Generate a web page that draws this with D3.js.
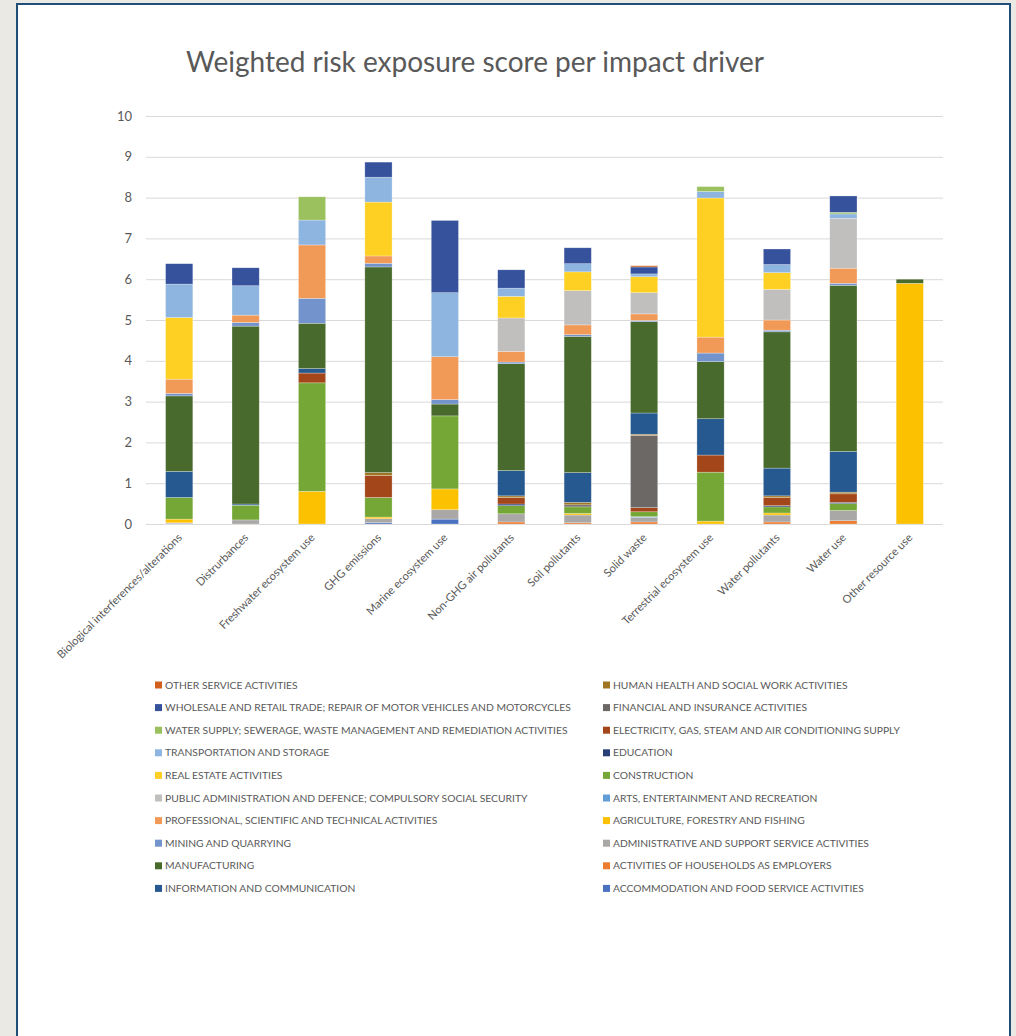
<!DOCTYPE html>
<html>
<head>
<meta charset="utf-8">
<script src="https://cdn.jsdelivr.net/npm/d3@7"></script>
<style>
  html, body { margin: 0; padding: 0; background: #ebe9e4; }
  svg { display: block; }
</style>
</head>
<body>
<svg id="chart" width="1016" height="1036"></svg>
<script>
// Impact drivers along the x axis
const categories = [
  "Biological interferences/alterations", "Distrurbances", "Freshwater ecosystem use",
  "GHG emissions", "Marine ecosystem use", "Non-GHG air pollutants", "Soil pollutants",
  "Solid waste", "Terrestrial ecosystem use", "Water pollutants", "Water use", "Other resource use"
];

// Sector contributions per impact driver (stacked bottom to top in this order)
const accommodation  = [0.01, 0, 0, 0.03, 0.12, 0, 0, 0, 0, 0, 0, 0];
const households     = [0, 0, 0, 0, 0, 0.05, 0.03, 0.05, 0, 0.05, 0.08, 0];
const administrative = [0.02, 0.10, 0, 0.10, 0.23, 0.20, 0.19, 0.11, 0, 0.17, 0.25, 0];
const agriculture    = [0.09, 0, 0.80, 0.04, 0.51, 0, 0.04, 0, 0.07, 0.05, 0, 5.90];
const arts           = [0, 0, 0, 0, 0, 0, 0, 0.02, 0, 0, 0, 0];
const construction   = [0.53, 0.36, 2.66, 0.48, 1.79, 0.20, 0.16, 0.12, 1.20, 0.15, 0.17, 0];
const education      = [0, 0, 0, 0, 0, 0.04, 0, 0, 0, 0.03, 0.03, 0];
const electricity    = [0, 0, 0.24, 0.54, 0, 0.16, 0, 0.10, 0.42, 0.20, 0.21, 0];
const financial      = [0, 0, 0, 0, 0, 0, 0.05, 1.77, 0, 0, 0, 0];
const humanHealth    = [0, 0, 0, 0.07, 0, 0.04, 0.06, 0.03, 0, 0.04, 0.04, 0];
const information    = [0.64, 0.03, 0.11, 0, 0, 0.62, 0.73, 0.52, 0.89, 0.68, 1.00, 0];
const manufacturing  = [1.85, 4.36, 1.11, 5.04, 0.29, 2.62, 3.34, 2.24, 1.40, 3.34, 4.07, 0.10];
const mining         = [0.06, 0.09, 0.61, 0.09, 0.11, 0.04, 0.04, 0.03, 0.21, 0.04, 0.05, 0];
const professional   = [0.35, 0.18, 1.31, 0.18, 1.05, 0.26, 0.24, 0.16, 0.39, 0.25, 0.37, 0];
const publicAdmin    = [0, 0, 0, 0, 0, 0.82, 0.84, 0.52, 0, 0.75, 1.22, 0];
const realEstate     = [1.51, 0, 0, 1.32, 0, 0.53, 0.46, 0.39, 3.41, 0.41, 0, 0];
const transportation = [0.82, 0.72, 0.61, 0.61, 1.57, 0.20, 0.20, 0.07, 0.16, 0.20, 0.11, 0];
const waterSupply    = [0, 0, 0.57, 0, 0, 0, 0, 0, 0.12, 0, 0.04, 0];
const wholesale      = [0.50, 0.44, 0, 0.37, 1.77, 0.45, 0.39, 0.17, 0, 0.38, 0.40, 0];
const otherService   = [0, 0, 0, 0, 0, 0, 0, 0.03, 0, 0, 0, 0];

// Y axis tick labels
const yTicks = [0, 1, 2, 3, 4, 5, 6, 7, 8, 9, 10];

const series = [
  { name: "ACCOMMODATION AND FOOD SERVICE ACTIVITIES", values: accommodation, color: "#4a72c0" },
  { name: "ACTIVITIES OF HOUSEHOLDS AS EMPLOYERS", values: households, color: "#ed7b2e" },
  { name: "ADMINISTRATIVE AND SUPPORT SERVICE ACTIVITIES", values: administrative, color: "#aaa8a6" },
  { name: "AGRICULTURE, FORESTRY AND FISHING", values: agriculture, color: "#fcc100" },
  { name: "ARTS, ENTERTAINMENT AND RECREATION", values: arts, color: "#629ed6" },
  { name: "CONSTRUCTION", values: construction, color: "#74a735" },
  { name: "EDUCATION", values: education, color: "#283f75" },
  { name: "ELECTRICITY, GAS, STEAM AND AIR CONDITIONING SUPPLY", values: electricity, color: "#a3461a" },
  { name: "FINANCIAL AND INSURANCE ACTIVITIES", values: financial, color: "#6c6866" },
  { name: "HUMAN HEALTH AND SOCIAL WORK ACTIVITIES", values: humanHealth, color: "#a07521" },
  { name: "INFORMATION AND COMMUNICATION", values: information, color: "#26598f" },
  { name: "MANUFACTURING", values: manufacturing, color: "#486a2c" },
  { name: "MINING AND QUARRYING", values: mining, color: "#7393cd" },
  { name: "PROFESSIONAL, SCIENTIFIC AND TECHNICAL ACTIVITIES", values: professional, color: "#f19a58" },
  { name: "PUBLIC ADMINISTRATION AND DEFENCE; COMPULSORY SOCIAL SECURITY", values: publicAdmin, color: "#c0bfbd" },
  { name: "REAL ESTATE ACTIVITIES", values: realEstate, color: "#ffd024" },
  { name: "TRANSPORTATION AND STORAGE", values: transportation, color: "#8db5e0" },
  { name: "WATER SUPPLY; SEWERAGE, WASTE MANAGEMENT AND REMEDIATION ACTIVITIES", values: waterSupply, color: "#9bc05e" },
  { name: "WHOLESALE AND RETAIL TRADE; REPAIR OF MOTOR VEHICLES AND MOTORCYCLES", values: wholesale, color: "#36529d" },
  { name: "OTHER SERVICE ACTIVITIES", values: otherService, color: "#d0601a" }
];

const svg = d3.select("#chart");
const font = "Lato, 'Open Sans', sans-serif";
const textColor = "#595959";

// Page frame
svg.append("rect").attr("x", 17).attr("y", 4).attr("width", 993).attr("height", 1040)
  .attr("fill", "#ffffff").attr("stroke", "#1f4e79").attr("stroke-width", 2);

// Title
svg.append("text")
  .attr("x", 475).attr("y", 72)
  .attr("text-anchor", "middle")
  .attr("font-family", font).attr("font-size", 28)
  .attr("fill", textColor)
  .text("Weighted risk exposure score per impact driver");

const plot = { left: 146, right: 943, top: 116, bottom: 524 };

const x = d3.scaleBand().domain(categories)
  .range([plot.left, plot.right]).paddingInner(0.59).paddingOuter(0.295);
const y = d3.scaleLinear().domain([0, 10]).range([plot.bottom, plot.top]);

// Gridlines and y labels
const yAxis = d3.axisLeft(y).tickValues(yTicks).tickSize(-(plot.right - plot.left)).tickPadding(14);
const gy = svg.append("g").attr("transform", `translate(${plot.left},0)`).call(yAxis);
gy.select(".domain").remove();
gy.selectAll(".tick line").attr("stroke", "#d9d9d9").attr("stroke-width", 1);
gy.selectAll(".tick text").attr("font-family", font).attr("font-size", 13).attr("fill", textColor);

// Stacked bars
const table = categories.map((c, i) => {
  const row = { category: c };
  series.forEach(s => { row[s.name] = s.values[i]; });
  return row;
});
const stack = d3.stack().keys(series.map(s => s.name))(table);

svg.append("g").selectAll("g")
  .data(stack)
  .join("g")
  .attr("fill", (d, i) => series[i].color)
  .selectAll("rect")
  .data(d => d.filter(p => p[1] - p[0] > 0))
  .join("rect")
  .attr("x", d => x(d.data.category))
  .attr("width", x.bandwidth())
  .attr("y", d => y(d[1]))
  .attr("height", d => y(d[0]) - y(d[1]))
  .attr("stroke", "#ffffff").attr("stroke-opacity", 0.45).attr("stroke-width", 0.6);

// Category labels, rotated
const xAxis = d3.axisBottom(x).tickSize(0).tickPadding(0);
const gx = svg.append("g").attr("transform", `translate(0,${plot.bottom})`).call(xAxis);
gx.select(".domain").remove();
gx.selectAll(".tick text")
  .attr("font-family", font).attr("font-size", 11.2).attr("fill", textColor)
  .attr("text-anchor", "end")
  .attr("dy", "0.3em")
  .attr("transform", "translate(1,12) rotate(-45)");

// Legend in two columns, reverse series order
const legendItems = series.slice().reverse();
const legend = svg.append("g");
legendItems.forEach((s, i) => {
  const col = Math.floor(i / 10);
  const row = i % 10;
  const lx = col === 0 ? 155 : 603;
  const ly = 685 + row * 22.6;
  const g = legend.append("g").attr("transform", `translate(${lx},${ly})`);
  g.append("rect").attr("x", 0).attr("y", -3.5).attr("width", 7).attr("height", 7).attr("fill", s.color);
  g.append("text").attr("x", 10).attr("y", 0).attr("dy", "0.35em")
    .attr("font-family", font).attr("font-size", 10.3).attr("fill", textColor)
    .text(s.name);
});
</script>
</body>
</html>
